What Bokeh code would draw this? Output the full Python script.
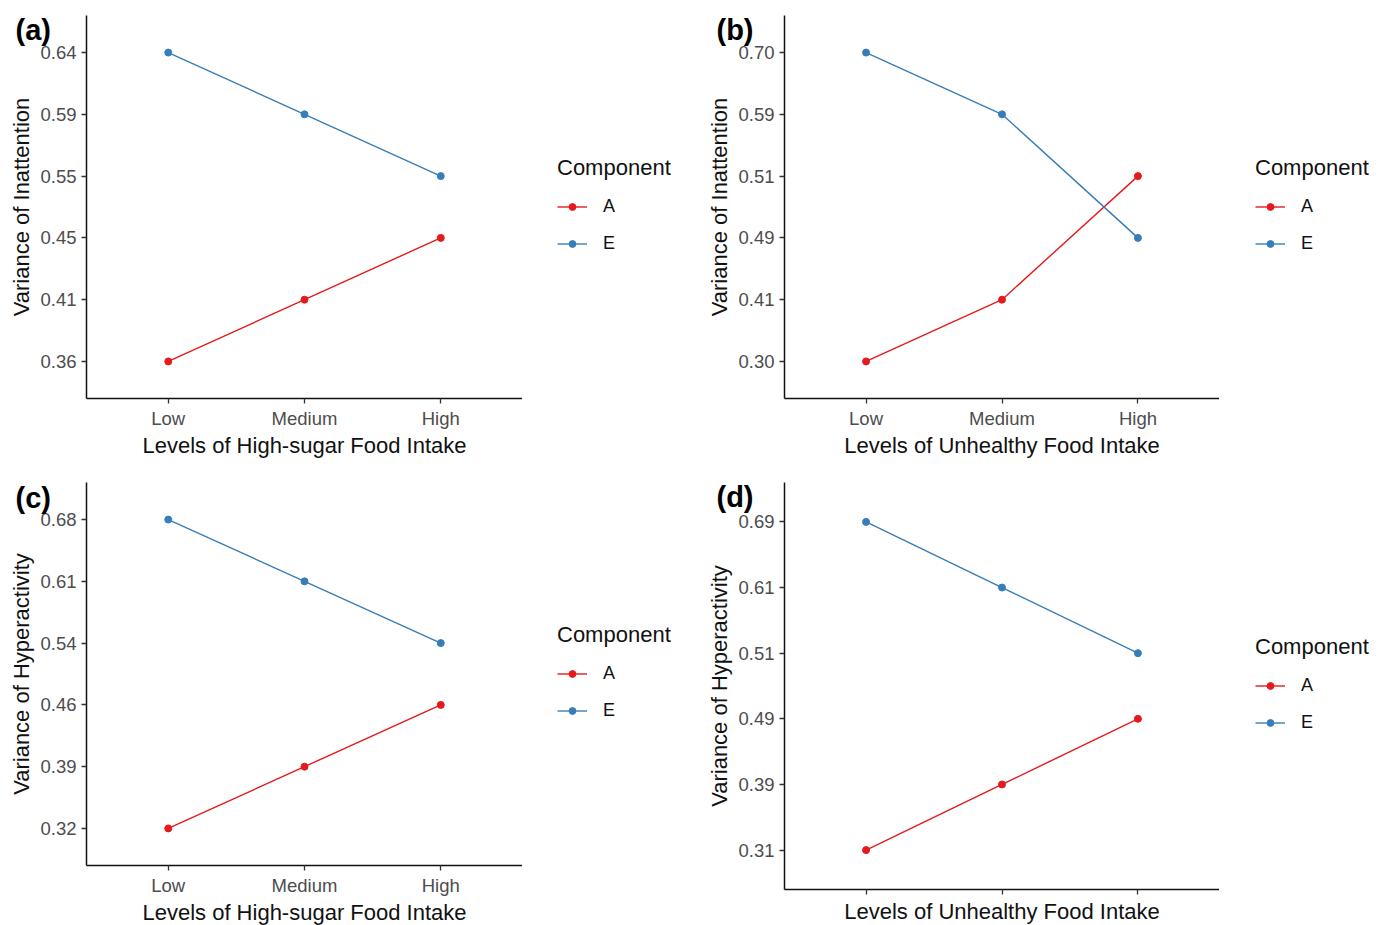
from bokeh.plotting import figure
from bokeh.models import FactorRange, Legend, LegendItem, CustomJSTickFormatter
from bokeh.layouts import column, row
from bokeh.embed import file_html
from bokeh.resources import INLINE

levels = ["Low", "Medium", "High"]
components = ["A", "E"]

a_A = [0.36, 0.41, 0.45]
a_E = [0.64, 0.59, 0.55]
b_A = [0.30, 0.41, 0.51]
b_E = [0.70, 0.59, 0.49]
c_A = [0.32, 0.39, 0.46]
c_E = [0.68, 0.61, 0.54]
d_A = [0.31, 0.39, 0.49]
d_E = [0.69, 0.61, 0.51]

tags = ["(a)", "(b)", "(c)", "(d)"]
x_titles = ["Levels of High-sugar Food Intake", "Levels of Unhealthy Food Intake",
            "Levels of High-sugar Food Intake", "Levels of Unhealthy Food Intake"]
y_titles = ["Variance of Inattention", "Variance of Inattention",
            "Variance of Hyperactivity", "Variance of Hyperactivity"]
legend_title = "Component"
colors = {"A": "#E41A1C", "E": "#377EB8"}

FONT = "Liberation Sans"


def fmt(v):
    return f"{v:.2f}"


def y_factors(A, E):
    return sorted(set(fmt(v) for v in A + E), key=float)


def make_panel(tag, A, E, xtitle, ytitle, fw, fh, bl, bt, bb,
               tag_dx, tag_drop, show_xlabels=True):
    p = figure(frame_width=fw, frame_height=fh,
               x_range=FactorRange(factors=levels, range_padding=0.1,
                                   range_padding_units="absolute"),
               y_range=FactorRange(factors=y_factors(A, E), range_padding=0.1,
                                   range_padding_units="absolute"),
               output_backend="svg", toolbar_location=None,
               min_border_left=bl, min_border_right=0,
               min_border_top=bt, min_border_bottom=bb)
    p.outline_line_color = None
    p.grid.visible = False
    for comp, vals in (("A", A), ("E", E)):
        ys = [fmt(v) for v in vals]
        p.line(levels, ys, line_color=colors[comp], line_width=1.4)
        p.scatter(levels, ys, size=7, fill_color=colors[comp], line_color=colors[comp])
    for ax in (p.xaxis[0], p.yaxis[0]):
        ax.axis_line_color = "#111111"
        ax.axis_line_width = 1.5
        ax.major_tick_line_color = "#333333"
        ax.major_tick_line_width = 1.3
        ax.major_tick_out = 5
        ax.major_tick_in = 0
        ax.minor_tick_line_color = None
        ax.major_label_text_font = FONT
        ax.major_label_text_font_size = "18.5px"
        ax.major_label_text_color = "#4D4D4D"
        ax.axis_label_text_font = FONT
        ax.axis_label_text_font_size = "22px"
        ax.axis_label_text_font_style = "normal"
        ax.axis_label_text_color = "#111111"
    p.xaxis.axis_label = xtitle
    p.yaxis.axis_label = ytitle
    p.xaxis.major_label_standoff = 4
    p.xaxis.axis_label_standoff = 1
    p.yaxis.major_label_standoff = 5
    p.yaxis.axis_label_standoff = 3
    if not show_xlabels:
        p.xaxis.formatter = CustomJSTickFormatter(code="return ''")
        p.xaxis.major_label_standoff = 0
        p.xaxis.axis_label_standoff = 4
    # panel tag, drawn by the figure title (left of the frame)
    p.title.text = tag
    p.title.align = "left"
    p.title.vertical_align = "bottom"
    p.title.offset = tag_dx
    p.title.standoff = -2 * tag_drop
    p.title.text_font = FONT
    p.title.text_font_size = "29px"
    p.title.text_font_style = "bold"
    p.title.text_color = "#000000"
    return p


def make_legend(A, E, width, height, leg_dx, leg_dy):
    q = figure(width=width, height=height,
               x_range=FactorRange(factors=levels),
               y_range=FactorRange(factors=y_factors(A, E)),
               x_axis_location=None, y_axis_location=None,
               output_backend="svg", toolbar_location=None,
               min_border_left=0, min_border_right=0,
               min_border_top=0, min_border_bottom=0)
    q.outline_line_color = None
    q.grid.visible = False
    items = []
    for comp, vals in (("A", A), ("E", E)):
        ys = [fmt(v) for v in vals]
        # muted copies: only their legend glyphs are seen
        ln = q.line(levels, ys, line_color=colors[comp], line_width=1.4,
                    muted_alpha=0)
        sc = q.scatter(levels, ys, size=7, fill_color=colors[comp],
                       line_color=colors[comp], muted_alpha=0)
        ln.muted = True
        sc.muted = True
        items.append(LegendItem(label=comp, renderers=[ln, sc]))
    legend = Legend(items=items, title=legend_title, location=(leg_dx, leg_dy),
                    title_text_font=FONT, title_text_font_size="22px",
                    title_text_font_style="normal", title_text_color="#111111",
                    label_text_font=FONT, label_text_font_size="18px",
                    label_text_color="#111111",
                    glyph_width=30, glyph_height=17, label_height=30,
                    spacing=7, label_standoff=16, title_standoff=10,
                    border_line_color=None, background_fill_alpha=0,
                    padding=0, margin=0)
    q.add_layout(legend, "center")
    return q


# page coordinates of the reference frames:
# (a) x 86..522, y 15..398   (b) x 784..1219, y 15..398
# (c) x 86..522, y 481..864  (d) x 784..1219, y 482..889
pa = make_panel(tags[0], a_A, a_E, x_titles[0], y_titles[0], 436, 383, 86, 15, 72, -71, 30)
pb = make_panel(tags[1], b_A, b_E, x_titles[1], y_titles[1], 435, 383, 86, 15, 72, -68, 30)
pc = make_panel(tags[2], c_A, c_E, x_titles[2], y_titles[2], 436, 383, 86, 11, 60, -71, 31)
pd = make_panel(tags[3], d_A, d_E, x_titles[3], y_titles[3], 435, 407, 86, 12, 35, -68, 30,
                show_xlabels=False)

la = make_legend(a_A, a_E, 176, 470, 35, 140)
lb = make_legend(b_A, b_E, 169, 470, 36, 140)
lc = make_legend(c_A, c_E, 176, 454, 35, 137)
ld = make_legend(d_A, d_E, 169, 454, 36, 125)

layout = column(row(pa, la, pb, lb), row(pc, lc, pd, ld))
open("out.html", "w").write(file_html(layout, INLINE))
